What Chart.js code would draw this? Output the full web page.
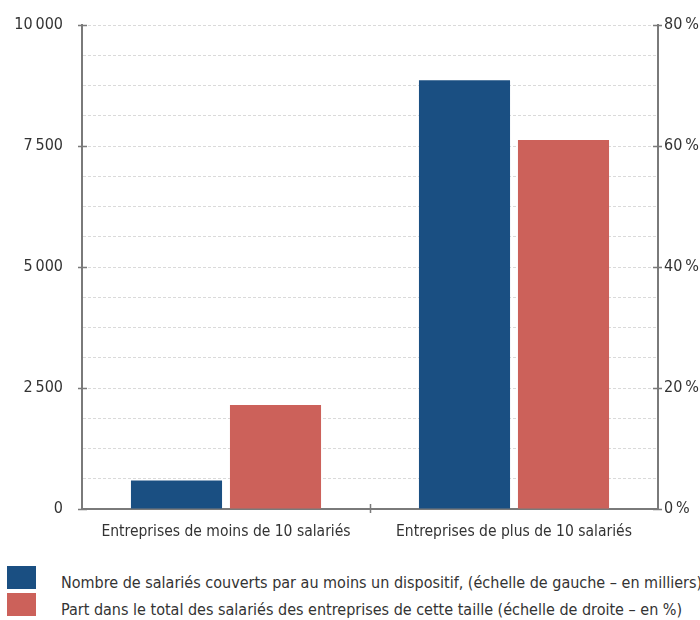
<!DOCTYPE html>
<html lang="fr">
<head>
<meta charset="utf-8">
<script src="https://cdn.jsdelivr.net/npm/chart.js@4.4.1/dist/chart.umd.min.js"></script>
<style>
  html, body { margin: 0; padding: 0; background: #fff; }
  body { width: 700px; height: 620px; position: relative; overflow: hidden;
         font-family: 'Liberation Sans Narrow', 'Arial Narrow', 'DejaVu Sans Condensed', sans-serif; color: #333; }
  #wrap { position: absolute; left: 0; top: 0; width: 700px; height: 545px; }
  .legend-row { position: absolute; left: 0; height: 26px; white-space: nowrap; }
  .legend-box { position: absolute; left: 7px; top: 0; width: 29px; height: 23px; }
  .legend-text { position: absolute; left: 61px; top: 7px; font-size: 16px; line-height: 20px; color: #333; }
</style>
</head>
<body>
<div id="wrap"><canvas id="chart" width="700" height="545"></canvas></div>
<div class="legend-row" style="top:566px"><div class="legend-box" id="box0"></div><div class="legend-text" id="lab0"></div></div>
<div class="legend-row" style="top:593px"><div class="legend-box" id="box1"></div><div class="legend-text" id="lab1"></div></div>
<script>
// Catégories et séries
const categories = ["Entreprises de moins de 10 salariés", "Entreprises de plus de 10 salariés"];
const seriesLabels = [
  "Nombre de salariés couverts par au moins un dispositif, (échelle de gauche – en milliers)",
  "Part dans le total des salariés des entreprises de cette taille (échelle de droite – en %)"
];
const salariesCouverts = [590, 8860];   // milliers
const partSalaries = [17.2, 61.0];      // %
const leftTicks = [0, 2500, 5000, 7500, 10000];
const rightTicks = [0, 20, 40, 60, 80];
const seriesColors = ["#1a4f82", "#cc615a"];

const FONT = "'Liberation Sans Narrow', 'Arial Narrow', 'DejaVu Sans Condensed', sans-serif";
const AXIS = "#7a7a7a";

function fmtThousands(v) {
  return String(v).replace(/\B(?=(\d{3})+(?!\d))/g, "\u202F");
}

// Petites graduations qui traversent les axes
const crossTicks = {
  id: "crossTicks",
  afterDraw(chart) {
    const { ctx, chartArea: a, scales } = chart;
    ctx.save();
    ctx.strokeStyle = AXIS;
    ctx.lineWidth = 1.5;
    ctx.beginPath();
    leftTicks.forEach(v => {
      const y = Math.round(scales.y.getPixelForValue(v)) + 0.5;
      ctx.moveTo(a.left - 4, y); ctx.lineTo(a.left + 5, y);
    });
    rightTicks.forEach(v => {
      const y = Math.round(scales.y1.getPixelForValue(v)) + 0.5;
      ctx.moveTo(a.right - 5, y); ctx.lineTo(a.right + 4, y);
    });
    for (let i = 0; i < categories.length - 1; i++) {
      const x = Math.round((scales.x.getPixelForValue(i) + scales.x.getPixelForValue(i + 1)) / 2) + 0.5;
      ctx.moveTo(x, a.bottom - 5); ctx.lineTo(x, a.bottom + 4);
    }
    ctx.stroke();
    ctx.restore();
  }
};

new Chart(document.getElementById("chart"), {
  type: "bar",
  data: {
    labels: categories,
    datasets: [
      { label: seriesLabels[0], data: salariesCouverts, backgroundColor: seriesColors[0], yAxisID: "y",
        categoryPercentage: 0.6875, barPercentage: 0.92 },
      { label: seriesLabels[1], data: partSalaries, backgroundColor: seriesColors[1], yAxisID: "y1",
        categoryPercentage: 0.6875, barPercentage: 0.92 }
    ]
  },
  options: {
    responsive: false,
    animation: false,
    layout: { padding: { top: 25, left: 0, right: 0, bottom: 0 } },
    plugins: { legend: { display: false }, tooltip: { enabled: false } },
    scales: {
      x: {
        afterFit(s) { s.height = 36; },
        grid: { display: true, drawOnChartArea: false, drawTicks: false, offset: true },
        border: { display: true, color: AXIS, width: 2 },
        ticks: { color: "#333", font: { family: FONT, size: 15.5 }, padding: 14, maxRotation: 0 }
      },
      y: {
        position: "left",
        min: 0, max: 10000,
        afterFit(s) { s.width = 82; },
        afterBuildTicks(s) {
          const t = [];
          for (let v = 0; v <= 10000; v += 625) t.push({ value: v });
          s.ticks = t;
        },
        grid: {
          drawTicks: true, tickLength: 15, tickColor: "rgba(0,0,0,0)",
          color: ctx => (ctx.tick && ctx.tick.value === 0) ? "rgba(0,0,0,0)" : "#dadada",
          lineWidth: 1
        },
        border: { display: true, color: AXIS, width: 2, dash: [3, 2] },
        ticks: {
          color: "#333", font: { family: FONT, size: 16 }, padding: 4,
          autoSkip: false,
          callback: v => leftTicks.includes(v) ? fmtThousands(v) : ""
        }
      },
      y1: {
        position: "right",
        min: 0, max: 80,
        afterFit(s) { s.width = 42; },
        afterBuildTicks(s) { s.ticks = rightTicks.map(v => ({ value: v })); },
        grid: { drawOnChartArea: false, drawTicks: true, tickLength: 3, tickColor: "rgba(0,0,0,0)" },
        border: { display: true, color: AXIS, width: 2 },
        ticks: { color: "#333", font: { family: FONT, size: 16 }, padding: 3,
                 callback: v => v + "\u202F%" }
      }
    }
  },
  plugins: [crossTicks]
});

seriesLabels.forEach((t, i) => {
  document.getElementById("lab" + i).textContent = t;
  document.getElementById("box" + i).style.background = seriesColors[i];
});
</script>
</body>
</html>
